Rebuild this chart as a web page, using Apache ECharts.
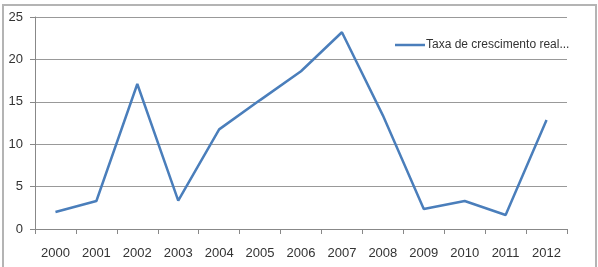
<!DOCTYPE html>
<html>
<head>
<meta charset="utf-8">
<script src="https://cdn.jsdelivr.net/npm/echarts@6/dist/echarts.min.js"></script>
<style>
  html, body { margin: 0; padding: 0; background: #fff; }
  #chart { width: 598px; height: 267px; }
  .frame {
    position: absolute; left: 2px; top: 4px; width: 591px; height: 280px;
    border: 2px solid #b4b4b4; pointer-events: none;
  }
</style>
</head>
<body>
<div id="chart"></div>
<div class="frame"></div>
<script>
// anos e taxa de crescimento
const anos = ['2000', '2001', '2002', '2003', '2004', '2005', '2006',
  '2007', '2008', '2009', '2010', '2011', '2012']
const taxa = [2.0, 3.3, 17.1, 3.35, 11.75, 15.2, 18.6, 23.2, 13.4, 2.35, 3.3, 1.65, 12.85]
const serieNome = 'Taxa de crescimento real...'

const chart = echarts.init(document.getElementById('chart'))

chart.setOption({
  animation: false,
  textStyle: { fontFamily: 'Liberation Sans' },
  grid: { left: 35, top: 17, width: 532, height: 212 },
  legend: {
    left: 390,
    top: 34,
    icon: 'rect',
    itemWidth: 30,
    itemHeight: 2.5,
    itemGap: 0,
    textStyle: { fontSize: 12, color: '#333', padding: [0, 0, 0, -4] },
    data: [serieNome],
  },
  xAxis: {
    type: 'category',
    data: anos,
    boundaryGap: true,
    axisLine: { lineStyle: { color: '#888', width: 1 } },
    axisTick: { show: true, length: 5, interval: 0, lineStyle: { color: '#888' } },
    axisLabel: { color: '#333', fontSize: 13, margin: 18, interval: 0 },
  },
  yAxis: {
    type: 'value',
    min: 0,
    max: 25,
    interval: 5,
    axisLine: { show: true, lineStyle: { color: '#888', width: 1 } },
    axisTick: { show: true, length: 5, lineStyle: { color: '#888' } },
    axisLabel: { color: '#333', fontSize: 13, margin: 12 },
    splitLine: { lineStyle: { color: '#999', width: 1 } },
  },
  series: [{
    name: serieNome,
    type: 'line',
    data: taxa,
    symbol: 'none',
    smooth: false,
    lineStyle: { color: '#4a7ebb', width: 2.5 },
    itemStyle: { color: '#4a7ebb' },
  }],
})
</script>
</body>
</html>
